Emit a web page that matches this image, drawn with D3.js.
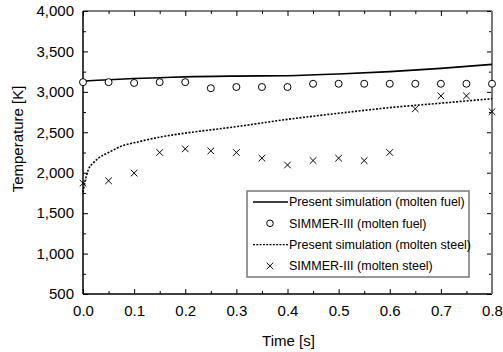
<!DOCTYPE html>
<html>
<head>
<meta charset="utf-8">
<script src="https://cdn.jsdelivr.net/npm/d3@7"></script>
<style>
  body { margin: 0; background: #fff; }
  svg { display: block; font-family: Arial, "Liberation Sans", sans-serif; }
</style>
</head>
<body>
<div id="chart"></div>
<script>
// present simulation, molten fuel (solid line)
const fuelSimT = [0, 0.02, 0.05, 0.1, 0.15, 0.2, 0.3, 0.4, 0.5, 0.6, 0.7, 0.8];
const fuelSimV = [3130, 3140, 3150, 3165, 3175, 3185, 3195, 3200, 3220, 3250, 3290, 3340];

// SIMMER-III, molten fuel (circles)
const simmerT = [0, 0.05, 0.1, 0.15, 0.2, 0.25, 0.3, 0.35, 0.4, 0.45, 0.5, 0.55, 0.6, 0.65, 0.7, 0.75, 0.8];
const simmerFuel = [3120, 3120, 3110, 3120, 3120, 3045, 3060, 3060, 3060, 3100, 3100, 3100, 3100, 3100, 3100, 3100, 3100];

// present simulation, molten steel (dotted line)
const steelSimT = [0, 0.005, 0.01, 0.02, 0.03, 0.05, 0.08, 0.1, 0.15, 0.2, 0.25, 0.3, 0.4, 0.5, 0.6, 0.7, 0.8];
const steelSimV = [1760, 1920, 2030, 2120, 2180, 2250, 2340, 2370, 2440, 2490, 2530, 2570, 2660, 2735, 2805, 2860, 2915];

// SIMMER-III, molten steel (crosses)
const simmerSteel = [1870, 1900, 1995, 2250, 2295, 2270, 2250, 2180, 2095, 2150, 2180, 2150, 2250, 2790, 2950, 2950, 2755];

const xTicks = [0, 0.1, 0.2, 0.3, 0.4, 0.5, 0.6, 0.7, 0.8];
const yTicks = [500, 1000, 1500, 2000, 2500, 3000, 3500, 4000];

const legendItems = [
  { label: 'Present simulation (molten fuel)', type: 'solid' },
  { label: 'SIMMER-III (molten fuel)', type: 'circle' },
  { label: 'Present simulation (molten steel)', type: 'dotted' },
  { label: 'SIMMER-III (molten steel)', type: 'cross' }
];

const width = 503, height = 352;
const margin = { left: 83, right: 11, top: 11, bottom: 58 };

const svg = d3.select('#chart').append('svg')
  .attr('width', width)
  .attr('height', height);

const x = d3.scaleLinear().domain([0, 0.8]).range([margin.left, width - margin.right]);
const y = d3.scaleLinear().domain([500, 4000]).range([height - margin.bottom, margin.top]);

const fmtY = d3.format(',');
const fmtX = d3.format('.1f');

// minor ticks
const xMinor = d3.range(0.05, 0.8, 0.1);
const yMinor = d3.range(750, 4000, 500);

function styleAxis(g) {
  g.selectAll('.tick line').attr('stroke', '#000').attr('stroke-width', 1);
  g.selectAll('text').attr('fill', '#000').style('font-size', '15px');
  g.select('.domain').remove();
}

// bottom
svg.append('g')
  .attr('transform', `translate(0,${y(500)})`)
  .call(d3.axisBottom(x).tickValues(xTicks).tickFormat(fmtX).tickSize(-5).tickPadding(11))
  .call(styleAxis);
svg.append('g')
  .attr('transform', `translate(0,${y(500)})`)
  .call(d3.axisBottom(x).tickValues(xMinor).tickFormat('').tickSize(-3))
  .call(styleAxis);

// top
svg.append('g')
  .attr('transform', `translate(0,${y(4000)})`)
  .call(d3.axisTop(x).tickValues(xTicks).tickFormat('').tickSize(-5))
  .call(styleAxis);
svg.append('g')
  .attr('transform', `translate(0,${y(4000)})`)
  .call(d3.axisTop(x).tickValues(xMinor).tickFormat('').tickSize(-3))
  .call(styleAxis);

// left
svg.append('g')
  .attr('transform', `translate(${x(0)},0)`)
  .call(d3.axisLeft(y).tickValues(yTicks).tickFormat(fmtY).tickSize(-5).tickPadding(9))
  .call(styleAxis);
svg.append('g')
  .attr('transform', `translate(${x(0)},0)`)
  .call(d3.axisLeft(y).tickValues(yMinor).tickFormat('').tickSize(-3))
  .call(styleAxis);

// right
svg.append('g')
  .attr('transform', `translate(${x(0.8)},0)`)
  .call(d3.axisRight(y).tickValues(yTicks).tickFormat('').tickSize(-5))
  .call(styleAxis);
svg.append('g')
  .attr('transform', `translate(${x(0.8)},0)`)
  .call(d3.axisRight(y).tickValues(yMinor).tickFormat('').tickSize(-3))
  .call(styleAxis);

// frame
svg.append('line').attr('x1', x(0)).attr('x2', x(0.8)).attr('y1', y(4000)).attr('y2', y(4000))
  .attr('stroke', '#000').attr('stroke-width', 1.2);
svg.append('line').attr('x1', x(0)).attr('x2', x(0.8)).attr('y1', y(500)).attr('y2', y(500))
  .attr('stroke', '#000').attr('stroke-width', 1.5);
svg.append('line').attr('x1', x(0)).attr('x2', x(0)).attr('y1', y(4000)).attr('y2', y(500))
  .attr('stroke', '#000').attr('stroke-width', 1.5);
svg.append('line').attr('x1', x(0.8)).attr('x2', x(0.8)).attr('y1', y(4000)).attr('y2', y(500))
  .attr('stroke', '#777').attr('stroke-width', 2);

// axis titles
svg.append('text')
  .attr('x', (x(0) + x(0.8)) / 2 + 1)
  .attr('y', 346)
  .attr('text-anchor', 'middle')
  .style('font-size', '15px')
  .text('Time [s]');

svg.append('text')
  .attr('transform', `translate(23,139) rotate(-90)`)
  .attr('text-anchor', 'middle')
  .style('font-size', '15px')
  .text('Temperature [K]');

// lines
const line = d3.line().x(d => x(d[0])).y(d => y(d[1])).curve(d3.curveMonotoneX);

svg.append('path')
  .datum(fuelSimT.map((t, i) => [t, fuelSimV[i]]))
  .attr('d', line)
  .attr('fill', 'none')
  .attr('stroke', '#000')
  .attr('stroke-width', 1.6);

svg.append('path')
  .datum(steelSimT.map((t, i) => [t, steelSimV[i]]))
  .attr('d', line)
  .attr('fill', 'none')
  .attr('stroke', '#000')
  .attr('stroke-width', 1.6)
  .attr('stroke-dasharray', '2,1.5');

// markers
svg.append('g')
  .selectAll('circle')
  .data(simmerT.map((t, i) => [t, simmerFuel[i]]))
  .enter().append('circle')
  .attr('cx', d => x(d[0]))
  .attr('cy', d => y(d[1]))
  .attr('r', 3.5)
  .attr('fill', '#fff')
  .attr('stroke', '#000')
  .attr('stroke-width', 1);

const crossPath = s => `M${-s},${-s}L${s},${s}M${-s},${s}L${s},${-s}`;

svg.append('g')
  .selectAll('path')
  .data(simmerT.map((t, i) => [t, simmerSteel[i]]))
  .enter().append('path')
  .attr('transform', d => `translate(${x(d[0])},${y(d[1])})`)
  .attr('d', crossPath(3.3))
  .attr('fill', 'none')
  .attr('stroke', '#000')
  .attr('stroke-width', 1);

// legend
const lg = svg.append('g').attr('transform', 'translate(247,191)');
lg.append('rect')
  .attr('width', 222)
  .attr('height', 86)
  .attr('fill', '#fff')
  .attr('stroke', '#777')
  .attr('stroke-width', 1.5);

const rows = lg.selectAll('g.item')
  .data(legendItems)
  .enter().append('g')
  .attr('class', 'item')
  .attr('transform', (d, i) => `translate(0,${11 + i * 21.3})`);

rows.append('text')
  .attr('x', 42)
  .attr('dy', '0.35em')
  .style('font-size', '12.5px')
  .text(d => d.label);

rows.filter(d => d.type === 'solid' || d.type === 'dotted')
  .append('line')
  .attr('x1', 6).attr('x2', 41)
  .attr('stroke', '#000')
  .attr('stroke-width', 1.3)
  .attr('stroke-dasharray', d => d.type === 'dotted' ? '2,1.3' : null);

rows.filter(d => d.type === 'circle')
  .append('circle')
  .attr('cx', 23).attr('r', 3.3)
  .attr('fill', 'none').attr('stroke', '#000');

rows.filter(d => d.type === 'cross')
  .append('path')
  .attr('transform', 'translate(23,0)')
  .attr('d', crossPath(3.3))
  .attr('stroke', '#000');
</script>
</body>
</html>
